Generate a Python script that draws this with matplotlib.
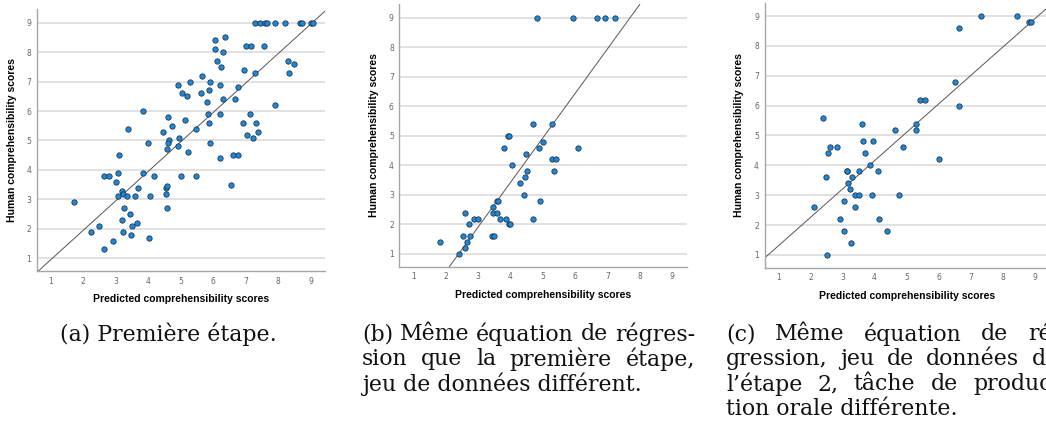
import matplotlib
matplotlib.use("Agg")
import matplotlib.pyplot as plt

# --- data ---
a_pred = [7.29, 7.45, 7.60, 7.65, 7.90, 8.21, 8.67, 8.72, 9.01, 9.08,
          6.36, 6.06, 6.06, 6.29, 7.00, 7.15, 7.56, 6.11, 6.23, 6.95,
          8.31, 8.49, 8.34, 7.29, 5.67, 5.30, 5.89, 4.93, 6.21, 6.77,
          5.03, 5.62, 5.18, 5.88, 6.31, 6.66, 5.80, 3.83, 5.85, 6.21,
          7.12, 7.90, 4.61, 5.13, 3.39, 4.73, 5.46, 5.88, 6.93, 7.32,
          4.45, 7.37, 7.03, 7.24, 4.94, 4.65, 3.98, 4.60, 5.90, 4.93,
          4.59, 5.22, 3.10, 6.62, 6.75, 6.21, 2.63, 2.78, 3.06, 3.83,
          4.19, 5.00, 5.46, 3.01, 3.69, 4.55, 4.57, 6.54, 3.19, 3.22,
          3.08, 3.36, 3.58, 4.05, 4.54, 1.72, 3.27, 4.57, 3.44, 3.18,
          3.66, 2.48, 3.49, 2.25, 3.22, 3.46, 4.01, 2.93, 2.63]
a_human = [9, 9, 9, 9, 9, 9, 9, 9, 9, 9,
           8.5, 8.4, 8.1, 8.0, 8.2, 8.2, 8.2, 7.7, 7.5, 7.4,
           7.7, 7.6, 7.3, 7.3, 7.2, 7.0, 7.0, 6.9, 6.9, 6.8,
           6.6, 6.6, 6.5, 6.7, 6.4, 6.4, 6.3, 6.0, 5.9, 5.9,
           5.9, 6.2, 5.8, 5.7, 5.4, 5.5, 5.4, 5.6, 5.6, 5.6,
           5.3, 5.3, 5.2, 5.1, 5.1, 5.0, 4.9, 4.9, 4.9, 4.8,
           4.7, 4.6, 4.5, 4.5, 4.5, 4.4, 3.8, 3.8, 3.9, 3.9,
           3.8, 3.8, 3.8, 3.6, 3.4, 3.4, 3.45, 3.5, 3.3, 3.2,
           3.1, 3.1, 3.1, 3.1, 3.2, 2.9, 2.7, 2.7, 2.5, 2.3,
           2.2, 2.1, 2.1, 1.9, 1.9, 1.8, 1.7, 1.6, 1.3]

b_pred = [4.81, 5.93, 6.68, 6.93, 7.22, 4.70, 5.27, 3.91, 3.96, 5.00,
          3.79, 4.89, 6.08, 4.49, 4.04, 5.28, 5.40, 5.36, 4.51, 4.45,
          4.29, 4.42, 4.90, 3.57, 3.62, 3.46, 3.47, 3.57, 2.59, 2.86,
          3.01, 3.69, 3.85, 4.69, 2.71, 3.95, 4.00, 2.53, 2.75, 3.44,
          3.48, 2.66, 2.61, 1.82, 2.42]
b_human = [9, 9, 9, 9, 9, 5.4, 5.4, 5.0, 5.0, 4.8,
           4.6, 4.6, 4.6, 4.4, 4.0, 4.2, 4.2, 3.8, 3.8, 3.6,
           3.4, 3.0, 2.8, 2.8, 2.8, 2.6, 2.4, 2.4, 2.4, 2.2,
           2.2, 2.2, 2.2, 2.2, 2.0, 2.0, 2.0, 1.6, 1.6, 1.6,
           1.6, 1.4, 1.2, 1.4, 1.0]

c_pred = [7.31, 8.43, 8.82, 8.88, 6.63, 6.52, 5.42, 5.58, 6.62, 2.38,
          3.60, 5.29, 4.63, 5.29, 3.63, 3.95, 2.61, 2.82, 4.90, 2.54,
          3.70, 3.85, 6.00, 3.13, 3.15, 3.50, 4.12, 2.48, 3.29, 3.16,
          3.25, 3.39, 3.53, 3.91, 4.77, 3.06, 3.38, 2.12, 2.93, 4.14,
          3.04, 4.39, 3.27, 2.53]
c_human = [9.0, 9.0, 8.8, 8.8, 8.6, 6.8, 6.2, 6.2, 6.0, 5.6,
           5.4, 5.4, 5.2, 5.2, 4.8, 4.8, 4.6, 4.6, 4.6, 4.4,
           4.4, 4.0, 4.2, 3.8, 3.8, 3.8, 3.8, 3.6, 3.6, 3.4,
           3.2, 3.0, 3.0, 3.0, 3.0, 2.8, 2.6, 2.6, 2.2, 2.2,
           1.8, 1.8, 1.4, 1.0]

# fitted lines (slope, intercept) as drawn in each panel
fits = [(1.0, -0.05), (1.51, -2.62), (0.951, 0.353)]
ticks = [1, 2, 3, 4, 5, 6, 7, 8, 9]

captions = [
    ["(a) Première étape."],
    ["(b) Même équation de régres-", "sion que la première étape,",
     "jeu de données différent."],
    ["(c) Même équation de ré-", "gression, jeu de données de",
     "l’étape 2, tâche de produc-", "tion orale différente."],
]

W, H = 1046, 434
fig = plt.figure(figsize=(W / 100, H / 100), dpi=100)


def px_box(left, right, top, bottom):
    return [left / W, 1 - bottom / H, (right - left) / W, (bottom - top) / H]


boxes = [(36.7, 325.3, 9.4, 271.0),
         (399.4, 686.9, 4.4, 266.7),
         (764.5, 1049.4, 2.6, 267.8)]
panels = [(a_pred, a_human), (b_pred, b_human), (c_pred, c_human)]

for box, (xs, ys), (slope, icpt) in zip(boxes, panels, fits):
    ax = fig.add_axes(px_box(*box))
    ax.set_xlim(0.57, 9.45)
    ax.set_ylim(0.57, 9.45)
    ax.set_xticks(ticks)
    ax.set_yticks(ticks)
    ax.yaxis.grid(True, color="#d8d8d8", linewidth=1.1)
    ax.set_axisbelow(True)
    for side in ("top", "right"):
        ax.spines[side].set_visible(False)
    for side in ("left", "bottom"):
        ax.spines[side].set_color("#a6a6a6")
        ax.spines[side].set_linewidth(1.0)
    ax.tick_params(length=0, labelsize=5.5, labelcolor="#666666", pad=4)
    ax.axline((0, icpt), slope=slope, color="#555555", linewidth=0.7, zorder=2)
    ax.scatter(xs, ys, s=15, color="#1f88d6", edgecolor="#1c2f45",
               linewidth=0.55, zorder=3)
    ax.set_xlabel("Predicted comprehensibility scores", family="Liberation Sans",
                  fontweight="bold", fontsize=7.5, labelpad=6)
    ax.set_ylabel("Human comprehensibility scores", family="Liberation Sans",
                  fontweight="bold", fontsize=7.5, labelpad=7)

# --- captions, justified like the LaTeX subcaptions ---
cap_kw = dict(family="DejaVu Serif", fontsize=15.8, va="center", color="#111111")
renderer = fig.canvas.get_renderer()
line_y = [334, 359, 384, 409]
columns = [(61, 276), (362, 695), (726, 1059)]


def justified_line(text, x0, x1, y):
    words = text.split(" ")
    items = [fig.text(0, 1 - y / H, w, **cap_kw) for w in words]
    widths = [t.get_window_extent(renderer).width for t in items]
    gap = (x1 - x0 - sum(widths)) / (len(words) - 1)
    x = x0
    for t, w in zip(items, widths):
        t.set_x(x / W)
        x += w + gap


for lines, (x0, x1) in zip(captions, columns):
    if len(lines) == 1:
        fig.text((x0 + x1) / 2 / W, 1 - line_y[0] / H, lines[0], ha="center", **cap_kw)
        continue
    for i, line in enumerate(lines):
        if i < len(lines) - 1:
            justified_line(line, x0, x1, line_y[i])
        else:
            fig.text(x0 / W, 1 - line_y[i] / H, line, **cap_kw)

fig.savefig("out.png", dpi=100)
